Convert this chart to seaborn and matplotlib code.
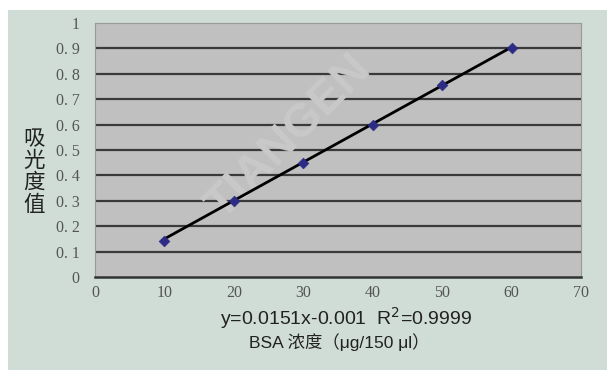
import numpy as np
import pandas as pd
import seaborn as sns
from matplotlib import pyplot as plt
from matplotlib.patches import Rectangle

# BSA standard curve
conc = [10, 20, 30, 40, 50, 60]
absorb = [0.14, 0.30, 0.45, 0.60, 0.755, 0.90]
slope = 0.0151
intercept = -0.001
xticks = [0, 10, 20, 30, 40, 50, 60, 70]
yticks = [0, 0.1, 0.2, 0.3, 0.4, 0.5, 0.6, 0.7, 0.8, 0.9, 1]
ytick_labels = ['0', '0. 1', '0. 2', '0. 3', '0. 4', '0. 5', '0. 6', '0. 7', '0. 8', '0. 9', '1']

sns.set_style("white")
plt.rcParams['font.family'] = ['Liberation Sans', 'Noto Sans CJK SC', 'DejaVu Sans']

df = pd.DataFrame({'conc': conc, 'abs': absorb})

fig = plt.figure(figsize=(6.07, 3.70), dpi=100, facecolor='white')
# light green panel behind the chart
fig.patches.append(Rectangle((8/607, 0), 1 - 8/607, 360/370, transform=fig.transFigure,
                             facecolor='#cfddd6', edgecolor='none', zorder=-5))
ax = fig.add_axes([95/607, 93/370, 486/607, 254/370])
ax.set_zorder(2)
ax.set_facecolor('#c0c0c0')

# gridlines
for v in yticks[1:-1]:
    ax.axhline(v, color='#3a3a3a', lw=1.6, zorder=1)

# trend line
xl = np.array([conc[0], conc[-1]])
ax.plot(xl, slope*xl + intercept, color='black', lw=2, zorder=3)
sns.scatterplot(data=df, x='conc', y='abs', marker='D', s=30, color='#2c2c86',
                edgecolor='#2c2c86', ax=ax, zorder=4)

# faint watermark
ax.text(28, 0.55, 'TIANGEN', rotation=45, fontsize=34, fontweight='bold',
        color='#c9c9c9', ha='center', va='center', zorder=2)

ax.set_xlim(0, 70)
ax.set_ylim(0, 1)
ax.set_xticks(xticks)
ax.set_yticks(yticks)
ax.set_yticklabels(ytick_labels)
ax.set_xlabel('')
ax.set_ylabel('')
ax.tick_params(axis='x', direction='in', length=4, width=1.5, color='#222222', pad=6)
ax.tick_params(axis='y', direction='out', length=5, width=1.5, color='#333333', pad=6)
for lab in ax.get_xticklabels() + ax.get_yticklabels():
    lab.set_family('Liberation Serif')
    lab.set_fontsize(11.5)
    lab.set_color('#555555')

for s in ['top', 'right', 'left']:
    ax.spines[s].set_color('#999999')
    ax.spines[s].set_linewidth(0.8)
ax.spines['bottom'].set_color('#333333')
ax.spines['bottom'].set_linewidth(1.8)

fig.text(34/607, 1 - 172/370, '吸\n光\n度\n值', ha='center', va='center', fontsize=15.5,
         color='#222222', linespacing=1.0, family=['Noto Sans CJK SC'])
fig.text(346/607, 1 - 318/370, 'y=0.0151x-0.001  R$^2$=0.9999', ha='center', va='center',
         fontsize=14, color='#222222')
fig.text(339/607, 1 - 342/370, 'BSA 浓度（μg/150 μl）', ha='center', va='center',
         fontsize=12.5, color='#222222', family=['Liberation Sans', 'Noto Sans CJK SC'])

fig.savefig('out.png', dpi=100)
